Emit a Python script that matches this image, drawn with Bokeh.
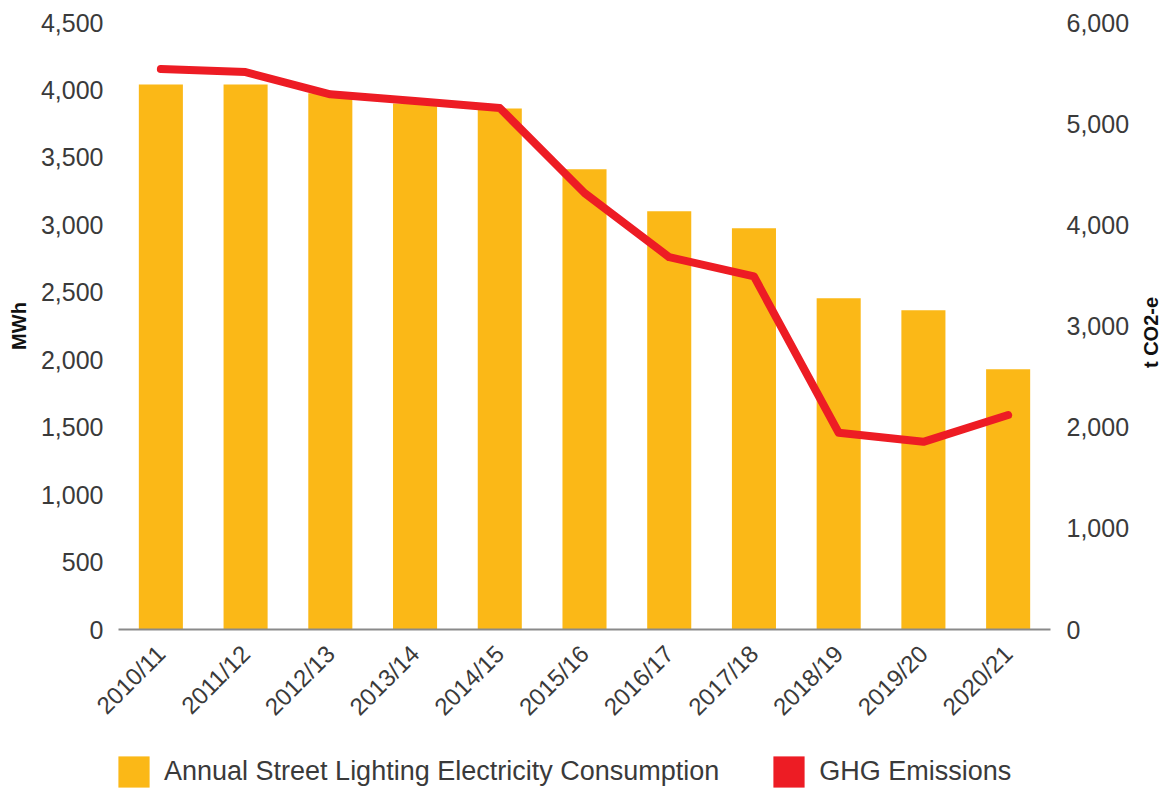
import math
from bokeh.plotting import figure
from bokeh.layouts import column, row
from bokeh.models import (ColumnDataSource, Range1d, LinearAxis, FixedTicker, Label,
                          NumeralTickFormatter, Legend, LegendItem, FactorRange)
from bokeh.embed import file_html
from bokeh.resources import INLINE

years = ["2010/11", "2011/12", "2012/13", "2013/14", "2014/15", "2015/16",
         "2016/17", "2017/18", "2018/19", "2019/20", "2020/21"]
mwh = [4040, 4040, 3975, 3900, 3863, 3412, 3100, 2975, 2455, 2366, 1929]
ghg = [5540, 5510, 5290, 5225, 5155, 4315, 3680, 3490, 1945, 1855, 2120]
left_ticks = [0, 500, 1000, 1500, 2000, 2500, 3000, 3500, 4000, 4500]
right_ticks = [0, 1000, 2000, 3000, 4000, 5000, 6000]
legend_labels = ["Annual Street Lighting Electricity Consumption", "GHG Emissions"]
left_title = "MWh"
right_title = "t CO2-e"

BAR = "#FBB817"
RED = "#ED1C24"
TXT = "#3a3a3a"
FONT = "Liberation Sans"

src = ColumnDataSource(dict(year=years, mwh=mwh, ghg=ghg))

p = figure(x_range=FactorRange(*years, range_padding=0), y_range=Range1d(0, 4500),
           width=1138, height=750, output_backend="svg", toolbar_location=None,
           min_border_left=118, min_border_right=88, min_border_top=22,
           min_border_bottom=121)
p.extra_y_ranges = {"co2": Range1d(0, 6000)}
p.outline_line_color = None
p.xgrid.visible = False
p.ygrid.visible = False

bars = p.vbar(x="year", top="mwh", width=0.52, source=src, fill_color=BAR, line_color=None)
line = p.line(x="year", y="ghg", source=src, y_range_name="co2", line_color=RED,
              line_width=8, line_cap="round", line_join="round")

ya = p.yaxis[0]
ya.ticker = FixedTicker(ticks=left_ticks)
ya.formatter = NumeralTickFormatter(format="0,0")
ya.axis_label = left_title

ra = LinearAxis(y_range_name="co2", ticker=FixedTicker(ticks=right_ticks),
                formatter=NumeralTickFormatter(format="0,0"))
p.add_layout(ra, "right")

for ax in (ya, ra):
    ax.axis_line_color = None
    ax.major_tick_line_color = None
    ax.minor_tick_line_color = None
    ax.major_label_text_font = FONT
    ax.major_label_text_font_size = "25px"
    ax.major_label_text_color = TXT
    ax.axis_label_text_font = FONT
    ax.axis_label_text_font_size = "20px"
    ax.axis_label_text_font_style = "bold"
    ax.axis_label_text_color = "#111111"
ya.major_label_standoff = 9
ya.axis_label_standoff = 8
ra.major_label_standoff = 10

xa = p.xaxis[0]
xa.axis_line_color = "#8a8a8a"
xa.axis_line_width = 2
xa.major_tick_line_color = None
xa.minor_tick_line_color = None
xa.major_label_orientation = math.pi / 4
xa.major_label_text_font = FONT
xa.major_label_text_font_size = "24px"
xa.major_label_text_color = TXT
xa.major_label_standoff = 14

# narrow strip on the right holding the right-axis title (reads bottom-to-top)
rf = figure(width=33, height=750, output_backend="svg", toolbar_location=None,
            x_axis_location=None, y_axis_location=None,
            min_border_left=0, min_border_right=0, min_border_top=22, min_border_bottom=121,
            x_range=Range1d(0, 1), y_range=Range1d(0, 1))
rf.outline_line_color = None
rf.xgrid.visible = False
rf.ygrid.visible = False
rf.add_layout(Label(x=12.5, y=297, x_units="screen", y_units="screen", text=right_title,
                    angle=math.pi / 2, text_align="center", text_baseline="middle",
                    text_font=FONT, text_font_size="20px", text_font_style="bold",
                    text_color="#111111"))

# legend strip
lg = figure(width=1138, height=41, output_backend="svg", toolbar_location=None,
            x_axis_location=None, y_axis_location=None,
            min_border_left=118, min_border_right=88, min_border_top=0, min_border_bottom=0,
            x_range=FactorRange(*years), y_range=Range1d(0, 1))
lg.outline_line_color = None
lg.xgrid.visible = False
lg.ygrid.visible = False
d1 = lg.vbar(x="year", top="mwh", width=0.5, source=src, fill_color=BAR, line_color=None,
             visible=False)
d2 = lg.vbar(x="year", top="ghg", width=0.5, source=src, fill_color=RED, line_color=None,
             visible=False)
legend = Legend(items=[LegendItem(label=legend_labels[0], renderers=[d1]),
                       LegendItem(label=legend_labels[1], renderers=[d2])],
                location=(-4, 0), orientation="horizontal",
                glyph_width=39, glyph_height=39, label_standoff=11, spacing=50,
                padding=0, margin=0, border_line_color=None, background_fill_alpha=0,
                inactive_fill_alpha=0,
                label_text_font=FONT, label_text_font_size="27px", label_text_color=TXT)
lg.add_layout(legend, "center")

layout = column(row(p, rf, spacing=0), lg, spacing=0)
open("out.html", "w").write(file_html(layout, INLINE))
